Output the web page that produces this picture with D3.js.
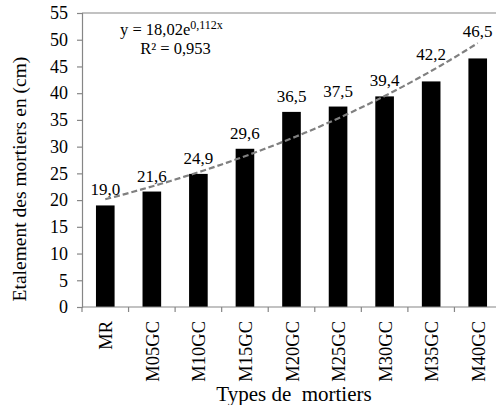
<!DOCTYPE html>
<html>
<head>
<meta charset="utf-8">
<script src="https://cdn.jsdelivr.net/npm/d3@7/dist/d3.min.js"></script>
<style>
  html, body { margin: 0; padding: 0; background: #fff; }
  svg { display: block; }
  svg text { font-family: "Liberation Serif", "Times New Roman", "DejaVu Serif", serif; fill: #000; }
</style>
</head>
<body>
<svg id="chart" width="496" height="405" font-family="Liberation Serif"></svg>
<script>
// Mortar types and measured spread (cm)
const categories = ["MR", "M05GC", "M10GC", "M15GC", "M20GC", "M25GC", "M30GC", "M35GC", "M40GC"];
const spread = [19.0, 21.6, 24.9, 29.6, 36.5, 37.5, 39.4, 42.2, 46.5];
const yTicks = [0, 5, 10, 15, 20, 25, 30, 35, 40, 45, 50, 55];

// Exponential trend y = a * e^(b x), x = 1..n
const trendA = 18.02;
const trendB = 0.112;
const trendR2 = "0,953";

// Labels that sit higher to clear the trend line
const raisedLabels = ["M35GC", "M40GC"];

const svg = d3.select("#chart");
const margin = { left: 82, top: 13, bottom: 307 };
const plotRight = 501;

const xBand = d3.scaleBand().domain(categories).range([margin.left, plotRight]);
const y = d3.scaleLinear().domain([0, 55]).range([margin.bottom, margin.top]);
const cx = d => xBand(d) + xBand.bandwidth() / 2;

const fmt = v => v.toFixed(1).replace(".", ",");
const axisColor = "#868686";
const serif = "Liberation Serif";

// top frame line
svg.append("line")
  .attr("x1", margin.left).attr("x2", plotRight)
  .attr("y1", margin.top).attr("y2", margin.top)
  .attr("stroke", axisColor).attr("stroke-width", 1.2);

// bars (gap width 150%)
const barW = xBand.bandwidth() * 0.4;
svg.append("g").selectAll("rect").data(categories).join("rect")
  .attr("x", d => cx(d) - barW / 2)
  .attr("width", barW)
  .attr("y", (d, i) => y(spread[i]))
  .attr("height", (d, i) => y(0) - y(spread[i]))
  .attr("fill", "#000");

// y axis
const yAxis = svg.append("g")
  .attr("transform", `translate(${margin.left},0)`)
  .call(d3.axisLeft(y).tickValues(yTicks).tickSize(5).tickPadding(9).tickFormat(d3.format("d")));
yAxis.attr("font-family", serif).attr("font-size", null);
yAxis.selectAll("path, line").attr("stroke", axisColor).attr("stroke-width", 1.2);
yAxis.selectAll("text").style("font-size", "18px").attr("fill", "#000");

// x axis with ticks at band boundaries
const xAxisG = svg.append("g").attr("transform", `translate(0,${margin.bottom})`);
xAxisG.append("line")
  .attr("x1", margin.left).attr("x2", plotRight)
  .attr("stroke", axisColor).attr("stroke-width", 1.2);
xAxisG.selectAll("line.tick").data(categories).join("line")
  .attr("class", "tick")
  .attr("x1", d => xBand(d)).attr("x2", d => xBand(d))
  .attr("y1", 0).attr("y2", 5)
  .attr("stroke", axisColor).attr("stroke-width", 1.2);
xAxisG.selectAll("text").data(categories).join("text")
  .attr("transform", d => `translate(${cx(d) + 7},14) rotate(-90)`)
  .attr("text-anchor", "end")
  .style("font-size", "18.5px")
  .text(d => d);

// value labels
svg.append("g").selectAll("text").data(categories).join("text")
  .attr("x", d => cx(d))
  .attr("y", (d, i) => y(spread[i]) - (raisedLabels.includes(d) ? 21 : 10))
  .attr("text-anchor", "middle")
  .style("font-size", "17px")
  .text((d, i) => fmt(spread[i]));

// trend line
const trendPts = d3.range(0, 8.001, 0.1).map(t => {
  const px = cx(categories[0]) + t * xBand.step();
  return [px, y(trendA * Math.exp(trendB * (1 + t)))];
});
svg.append("path")
  .attr("d", d3.line()(trendPts))
  .attr("fill", "none")
  .attr("stroke", "#808080")
  .attr("stroke-width", 2.2)
  .attr("stroke-dasharray", "6,3");

// equation
const eq = svg.append("text").attr("x", 120).attr("y", 35).style("font-size", "16.5px");
eq.append("tspan").text("y = 18,02e");
eq.append("tspan").attr("dy", -6).style("font-size", "12px").text("0,112x");
svg.append("text").attr("x", 175.5).attr("y", 53.5).attr("text-anchor", "middle")
  .style("font-size", "16.5px").text("R² = " + trendR2);

// axis titles
svg.append("text")
  .attr("transform", `translate(26,179) rotate(-90)`)
  .attr("text-anchor", "middle")
  .style("font-size", "19.5px")
  .text("Etalement des mortiers en (cm)");
svg.append("text")
  .attr("x", 294)
  .attr("y", 401)
  .attr("text-anchor", "middle")
  .style("font-size", "21px")
  .style("white-space", "pre")
  .text("Types de  mortiers");
</script>
</body>
</html>
